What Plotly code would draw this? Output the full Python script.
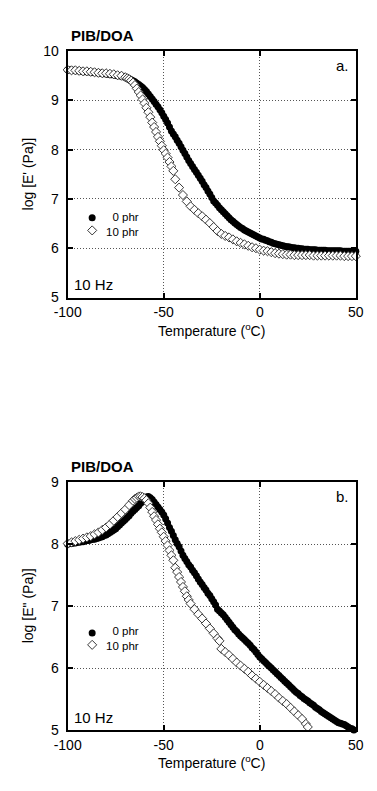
import plotly.graph_objects as go

# ---------------- data ----------------
temp_full = [-100, -99, -98, -97, -96, -95, -94, -93, -92, -91,
             -90, -89, -88, -87, -86, -85, -84, -83, -82, -81,
             -80, -79, -78, -77, -76, -75, -74, -73, -72, -71,
             -70, -69, -68, -67, -66, -65, -64, -63, -62, -61,
             -60, -59, -58, -57, -56, -55, -54, -53, -52, -51,
             -50, -49, -48, -47, -46, -45, -44, -43, -42, -41,
             -40, -39, -38, -37, -36, -35, -34, -33, -32, -31,
             -30, -29, -28, -27, -26, -25, -24, -23, -22, -21,
             -20, -19, -18, -17, -16, -15, -14, -13, -12, -11,
             -10, -9, -8, -7, -6, -5, -4, -3, -2, -1,
             0, 1, 2, 3, 4, 5, 6, 7, 8, 9,
             10, 11, 12, 13, 14, 15, 16, 17, 18, 19,
             20, 21, 22, 23, 24, 25, 26, 27, 28, 29,
             30, 31, 32, 33, 34, 35, 36, 37, 38, 39,
             40, 41, 42, 43, 44, 45, 46, 47, 48, 49,
             50]

# log E' , 0 phr (filled circles), panel a
logEp_0phr = [9.62, 9.62, 9.61, 9.61, 9.60, 9.60, 9.60, 9.59, 9.59, 9.58,
              9.58, 9.58, 9.57, 9.57, 9.57, 9.56, 9.56, 9.55, 9.55, 9.54,
              9.54, 9.53, 9.53, 9.52, 9.52, 9.51, 9.50, 9.50, 9.49, 9.48,
              9.47, 9.46, 9.44, 9.42, 9.40, 9.38, 9.35, 9.32, 9.29, 9.26,
              9.22, 9.18, 9.13, 9.08, 9.03, 8.98, 8.92, 8.87, 8.81, 8.75,
              8.68, 8.61, 8.54, 8.46, 8.38, 8.32, 8.26, 8.19, 8.13, 8.06,
              7.99, 7.92, 7.85, 7.78, 7.72, 7.66, 7.60, 7.54, 7.48, 7.42,
              7.36, 7.29, 7.23, 7.16, 7.10, 7.03, 6.96, 6.92, 6.87, 6.82,
              6.78, 6.74, 6.70, 6.66, 6.62, 6.58, 6.55, 6.51, 6.48, 6.45,
              6.42, 6.40, 6.37, 6.35, 6.33, 6.31, 6.29, 6.27, 6.25, 6.23,
              6.21, 6.19, 6.18, 6.16, 6.15, 6.13, 6.12, 6.10, 6.09, 6.08,
              6.07, 6.06, 6.05, 6.04, 6.03, 6.03, 6.02, 6.01, 6.01, 6.00,
              6.00, 5.99, 5.99, 5.98, 5.98, 5.98, 5.97, 5.97, 5.97, 5.97,
              5.96, 5.96, 5.96, 5.96, 5.96, 5.95, 5.95, 5.95, 5.95, 5.95,
              5.95, 5.95, 5.95, 5.94, 5.94, 5.94, 5.94, 5.94, 5.94, 5.94,
              5.94]

# log E' , 10 phr (open diamonds), panel a
temp_a10 = [-100, -98, -96, -94, -92, -90, -88, -86, -84, -82, -80, -78, -76, -74, -72, -70,
            -69, -68, -67, -66, -65, -64, -63, -62, -61, -60,
            -59, -58, -57, -56, -55, -54, -53, -52, -51, -50,
            -49, -48, -47, -46, -45, -44,
            -42, -40, -38, -36, -34, -32, -30, -28, -26, -24,
            -22, -20, -18, -16, -14, -12, -10, -8, -6, -4,
            -2, 0, 2, 4, 6, 8, 10, 12, 14, 16,
            18, 20, 22, 24, 26, 28, 30, 32, 34, 36,
            38, 40, 42, 44, 46, 48, 50]
logEp_10phr = [9.62, 9.61, 9.61, 9.60, 9.59, 9.59, 9.58, 9.57, 9.56, 9.55, 9.55, 9.54, 9.53, 9.51, 9.50, 9.47,
               9.45, 9.43, 9.40, 9.36, 9.31, 9.24, 9.17, 9.10, 9.02, 8.94,
               8.85, 8.76, 8.66, 8.55, 8.46, 8.36, 8.26, 8.17, 8.08, 7.99,
               7.92, 7.84, 7.75, 7.66, 7.57, 7.40,
               7.23, 7.08, 6.95, 6.85, 6.78, 6.71, 6.65, 6.58, 6.51, 6.43,
               6.35, 6.29, 6.25, 6.22, 6.18, 6.14, 6.11, 6.08, 6.05, 6.02,
               6.00, 5.97, 5.95, 5.94, 5.92, 5.90, 5.89, 5.88, 5.87, 5.87,
               5.86, 5.86, 5.86, 5.86, 5.86, 5.85, 5.85, 5.85, 5.85, 5.85,
               5.85, 5.85, 5.85, 5.84, 5.84, 5.84, 5.84]

# log E'' , 0 phr (filled circles), panel b
logEpp_0phr = [8.00, 8.01, 8.01, 8.02, 8.02, 8.03, 8.03, 8.04, 8.04, 8.05,
               8.06, 8.06, 8.07, 8.08, 8.08, 8.09, 8.10, 8.11, 8.12, 8.14,
               8.15, 8.17, 8.19, 8.21, 8.23, 8.25, 8.28, 8.31, 8.34, 8.37,
               8.40, 8.43, 8.46, 8.50, 8.53, 8.56, 8.59, 8.62, 8.66, 8.69,
               8.73, 8.76, 8.77, 8.75, 8.72, 8.68, 8.64, 8.60, 8.56, 8.52,
               8.47, 8.41, 8.34, 8.27, 8.21, 8.14, 8.07, 8.01, 7.96, 7.89,
               7.82, 7.77, 7.72, 7.67, 7.63, 7.58, 7.54, 7.49, 7.44, 7.39,
               7.35, 7.30, 7.26, 7.21, 7.17, 7.12, 7.07, 7.02, 6.95, 6.92,
               6.89, 6.86, 6.82, 6.78, 6.74, 6.70, 6.66, 6.62, 6.59, 6.55,
               6.52, 6.49, 6.46, 6.43, 6.40, 6.37, 6.33, 6.30, 6.26, 6.22,
               6.18, 6.15, 6.12, 6.09, 6.06, 6.03, 6.00, 5.97, 5.94, 5.91,
               5.88, 5.85, 5.82, 5.79, 5.76, 5.73, 5.70, 5.67, 5.64, 5.61,
               5.59, 5.56, 5.54, 5.51, 5.49, 5.47, 5.44, 5.42, 5.40, 5.37,
               5.35, 5.33, 5.30, 5.28, 5.26, 5.24, 5.22, 5.20, 5.18, 5.16,
               5.14, 5.12, 5.11, 5.10, 5.09, 5.07, 5.05, 5.03, 5.02, 5.00,
               4.99]

# log E'' , 10 phr (open diamonds), panel b
temp_b10 = [-100, -98, -96, -94, -92, -90, -88, -86, -84, -82, -80, -78, -76, -74, -72, -70, -68, -66,
            -65, -64, -63, -62, -61, -60, -59, -58, -57, -56,
            -55, -54, -53, -52, -51, -50, -49, -48, -47, -46,
            -45, -44, -43, -42, -41, -40, -39, -38, -37, -36,
            -34, -32, -30, -28, -26, -24, -22,
            -21, -20,
            -18, -16, -14, -12, -10, -8, -6, -4, -2, 0,
            2, 4, 6, 8, 10, 12, 14, 16, 18, 20, 22, 24,
            25]
logEpp_10phr = [8.01, 8.03, 8.05, 8.07, 8.09, 8.11, 8.13, 8.16, 8.19, 8.23, 8.27, 8.32, 8.38, 8.44, 8.50, 8.56, 8.63, 8.70,
                8.73, 8.75, 8.77, 8.77, 8.76, 8.74, 8.71, 8.66, 8.59, 8.52,
                8.45, 8.39, 8.32, 8.25, 8.19, 8.12, 8.05, 7.98, 7.90, 7.82,
                7.74, 7.62, 7.55, 7.47, 7.39, 7.31, 7.24, 7.16, 7.10, 7.04,
                6.95, 6.87, 6.80, 6.72, 6.64, 6.56, 6.48,
                6.44, 6.31,
                6.26, 6.21, 6.15, 6.09, 6.04, 5.99, 5.94, 5.88, 5.83, 5.78,
                5.73, 5.68, 5.63, 5.58, 5.52, 5.47, 5.42, 5.36, 5.30, 5.24, 5.18, 5.10,
                5.05]

x_tickvals = [-100, -50, 0, 50]
x_ticktext = ["-100", "-50", "0", "50"]
series_labels = ["0 phr", "10 phr"]

# ---------------- layout helpers ----------------
W, H = 377, 791
FONT = "Liberation Sans, Arial, sans-serif"


def px(x):
    return x / W


def py(y):
    return 1 - y / H


fig = go.Figure()

filled = dict(symbol="circle", size=7, color="black", line=dict(width=0))
openD = dict(symbol="diamond", size=7, color="white", line=dict(width=0.9, color="#222"))

fig.add_trace(go.Scatter(x=temp_full, y=logEp_0phr, mode="markers", marker=filled,
                         xaxis="x", yaxis="y", showlegend=False, cliponaxis=False))
fig.add_trace(go.Scatter(x=temp_a10, y=logEp_10phr, mode="markers", marker=openD,
                         xaxis="x", yaxis="y", showlegend=False, cliponaxis=False))
fig.add_trace(go.Scatter(x=temp_full, y=logEpp_0phr, mode="markers", marker=filled,
                         xaxis="x2", yaxis="y2", showlegend=False, cliponaxis=False))
fig.add_trace(go.Scatter(x=temp_b10, y=logEpp_10phr, mode="markers", marker=openD,
                         xaxis="x2", yaxis="y2", showlegend=False, cliponaxis=False))

# legend keys (drawn on a hidden paper-like overlay axis)
key_x = px(83)
key_rows = [(214, 227), (638, 650)]
for yf, yd in key_rows:
    fig.add_trace(go.Scatter(x=[key_x], y=[py(yf)], mode="markers",
                             marker=dict(symbol="circle", size=7, color="black"),
                             xaxis="x3", yaxis="y3", showlegend=False, cliponaxis=False))
    fig.add_trace(go.Scatter(x=[key_x], y=[py(yd)], mode="markers",
                             marker=dict(symbol="diamond", size=7, color="white",
                                         line=dict(width=0.9, color="#222")),
                             xaxis="x3", yaxis="y3", showlegend=False, cliponaxis=False))

axis_common = dict(showline=True, linecolor="black", linewidth=2, mirror="ticks",
                   ticks="inside", ticklen=5, tickwidth=2, tickcolor="black",
                   showgrid=True, gridcolor="#555", gridwidth=1, griddash="1px,2px",
                   zeroline=False, tickfont=dict(family=FONT, size=14, color="black"))

xdom = [px(57), px(363)]
fig.update_layout(
    width=W, height=H, margin=dict(l=0, r=0, t=0, b=0),
    paper_bgcolor="white", plot_bgcolor="rgba(0,0,0,0)", showlegend=False,
    xaxis=dict(domain=xdom, anchor="y", range=[-100, 50], tickvals=x_tickvals,
               ticktext=x_ticktext, ticklabelstandoff=1, **axis_common),
    yaxis=dict(domain=[py(295.5), py(44)], anchor="x", range=[5, 10],
               tickvals=[5, 6, 7, 8, 9, 10], ticklabelstandoff=4, **axis_common),
    xaxis2=dict(domain=xdom, anchor="y2", range=[-100, 50], tickvals=x_tickvals,
                ticktext=x_ticktext, ticklabelstandoff=1, **axis_common),
    yaxis2=dict(domain=[py(737), py(484)], anchor="x2", range=[5, 9],
                tickvals=[5, 6, 7, 8, 9], ticklabelstandoff=4, **axis_common),
    xaxis3=dict(domain=[0, 1], anchor="y3", range=[0, 1], visible=False, fixedrange=True),
    yaxis3=dict(domain=[0, 1], anchor="x3", range=[0, 1], visible=False, fixedrange=True),
)

ann = []


def add_text(text, x, y, size, xanchor="center", bold=False, angle=0, align="center"):
    ann.append(dict(text=f"<b>{text}</b>" if bold else text, x=px(x), y=py(y),
                    xref="paper", yref="paper", xanchor=xanchor, yanchor="middle",
                    showarrow=False, textangle=angle, align=align, borderpad=0,
                    font=dict(family=FONT, size=size, color="black")))


for (top, bot, letter, ytitle, y_legend) in [
        (44, 295.5, "a.", "log [E' (Pa)]", (214, 227)),
        (484, 737, "b.", "log [E\" (Pa)]", (638, 650))]:
    add_text("PIB/DOA", 59, top - 16, 15, xanchor="left", bold=True)
    add_text(letter, 357, top + 15, 15, xanchor="right")
    add_text("10 Hz", 63, bot - 13, 15, xanchor="left")
    add_text(ytitle, 15, (top + bot) / 2, 14, angle=-90)
    add_text("Temperature (<sup>o</sup>C)", 210, bot + 33, 14)
    add_text(series_labels[0] + "<br>" + series_labels[1], 134,
             (y_legend[0] + y_legend[1]) / 2, 11.5, xanchor="right", align="right")

fig.update_layout(annotations=ann)

fig.write_html("out.html")
